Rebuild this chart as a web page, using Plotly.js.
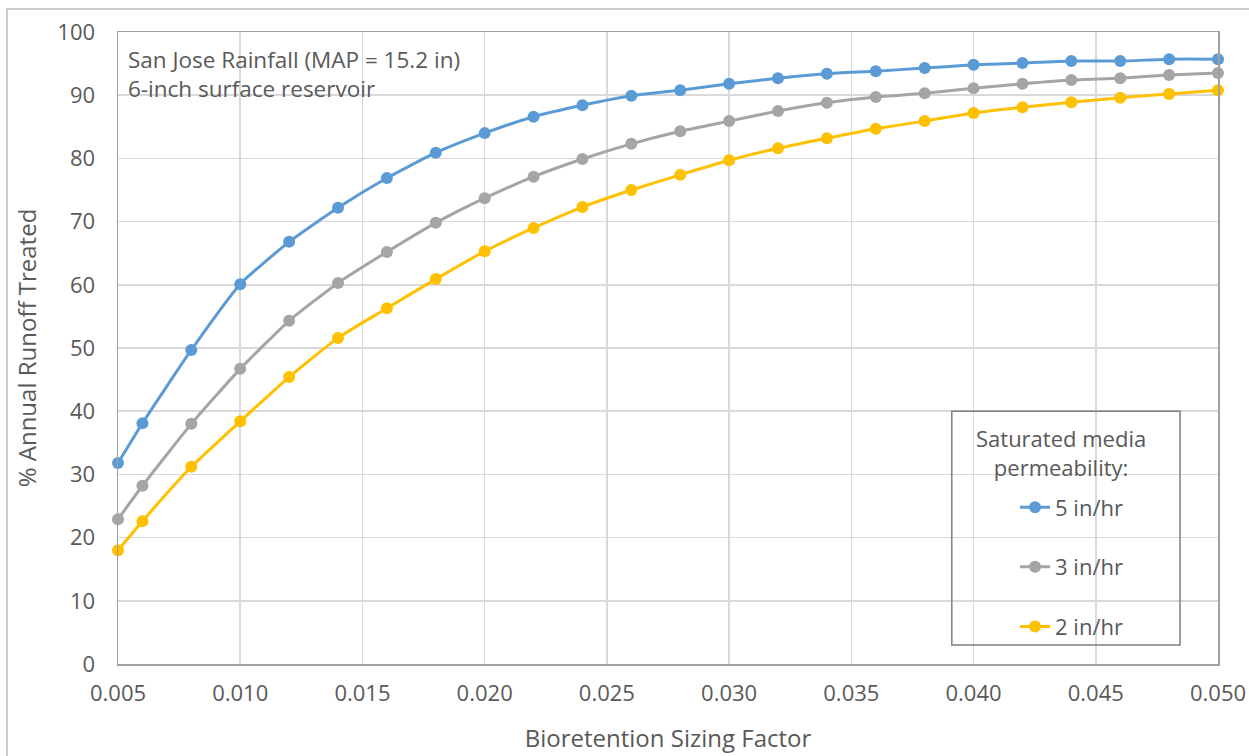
<!DOCTYPE html>
<html>
<head>
<meta charset="utf-8">
<script src="https://cdn.plot.ly/plotly-3.0.1.min.js"></script>
<style>html,body{margin:0;padding:0;background:#fff;}#chart{width:1249px;height:756px;}</style>
</head>
<body>
<div id="chart"></div>
<script>
const sizingFactor = [0.005, 0.006, 0.008, 0.010, 0.012, 0.014, 0.016, 0.018, 0.020, 0.022, 0.024, 0.026,
                      0.028, 0.030, 0.032, 0.034, 0.036, 0.038, 0.040, 0.042, 0.044, 0.046, 0.048, 0.050];
const perm5 = [31.8, 38.1, 49.7, 60.1, 66.8, 72.2, 76.9, 80.9, 84.0, 86.6, 88.4, 89.9,
               90.8, 91.8, 92.7, 93.4, 93.8, 94.3, 94.8, 95.1, 95.4, 95.4, 95.7, 95.7];
const perm3 = [22.9, 28.2, 38.0, 46.7, 54.3, 60.3, 65.2, 69.8, 73.7, 77.1, 79.9, 82.3,
               84.3, 85.9, 87.5, 88.8, 89.7, 90.3, 91.1, 91.8, 92.4, 92.7, 93.2, 93.5];
const perm2 = [18.0, 22.6, 31.2, 38.4, 45.4, 51.6, 56.3, 60.9, 65.3, 69.0, 72.3, 75.0,
               77.4, 79.7, 81.6, 83.2, 84.7, 85.9, 87.2, 88.1, 88.9, 89.6, 90.2, 90.8];
const seriesNames = ['5 in/hr', '3 in/hr', '2 in/hr'];
const seriesColors = ['#5B9BD5', '#A5A5A5', '#FFC000'];
const xTickVals = [0.005, 0.010, 0.015, 0.020, 0.025, 0.030, 0.035, 0.040, 0.045, 0.050];
const xTickText = ['0.005', '0.010', '0.015', '0.020', '0.025', '0.030', '0.035', '0.040', '0.045', '0.050'];
const yTickVals = [0, 10, 20, 30, 40, 50, 60, 70, 80, 90, 100];

const FONT = 'Open Sans, Liberation Sans, sans-serif';
const TXT = '#595959';

const ys = [perm5, perm3, perm2];
const traces = ys.map((y, i) => ({
  type: 'scatter', mode: 'lines+markers',
  x: sizingFactor, y: y, name: seriesNames[i], legendgroup: 'g' + i,
  line: {color: seriesColors[i], width: 3, shape: 'spline', smoothing: 0.5},
  marker: {color: seriesColors[i], size: 12},
  cliponaxis: false
}));

const layout = {
  width: 1249, height: 756,
  margin: {l: 118, r: 31, t: 32, b: 92},
  paper_bgcolor: '#ffffff', plot_bgcolor: '#ffffff',
  font: {family: FONT, color: TXT, size: 22},
  showlegend: true,
  xaxis: {
    range: [0.005, 0.050], tickvals: xTickVals, ticktext: xTickText,
    showgrid: true, gridcolor: '#D9D9D9', gridwidth: 1.5,
    showline: true, linecolor: '#A0A0A0', linewidth: 1.5, mirror: true,
    ticks: '', zeroline: false, ticklabelstandoff: 9,
    tickfont: {family: FONT, size: 22, color: TXT},
    title: {text: 'Bioretention Sizing Factor', font: {family: FONT, size: 24, color: TXT}, standoff: 24}
  },
  yaxis: {
    range: [0, 100], tickvals: yTickVals,
    showgrid: true, gridcolor: '#D9D9D9', gridwidth: 1.5,
    showline: true, linecolor: '#A0A0A0', linewidth: 1.5, mirror: true,
    ticks: '', zeroline: false, ticklabelstandoff: 17,
    tickfont: {family: FONT, size: 22, color: TXT},
    title: {text: '% Annual Runoff Treated', font: {family: FONT, size: 24, color: TXT}, standoff: 14}
  },
  legend: {
    x: 0.8155, xanchor: 'left', y: 0.281, yanchor: 'top',
    bgcolor: 'rgba(0,0,0,0)', borderwidth: 0,
    traceorder: 'grouped', tracegroupgap: 28,
    font: {family: FONT, size: 22, color: TXT}
  },
  shapes: [
    {type: 'rect', xref: 'paper', yref: 'paper', x0: 0.758, x1: 0.9655, y0: 0.030, y1: 0.400,
     line: {color: '#7F7F7F', width: 1.5}, fillcolor: 'rgba(0,0,0,0)', layer: 'above'},
    {type: 'rect', xref: 'paper', yref: 'paper', x0: -0.1009, x1: 1.05, y0: -0.2, y1: 1.0364,
     line: {color: '#BFBFBF', width: 1.5}, fillcolor: 'rgba(0,0,0,0)', layer: 'below'}
  ],
  annotations: [
    {xref: 'paper', yref: 'paper', x: 0.007, y: 0.984, xanchor: 'left', yanchor: 'top', align: 'left',
     showarrow: false, text: 'San Jose Rainfall (MAP = 15.2 in)<br>6-inch surface reservoir',
     font: {family: FONT, size: 22.5, color: TXT}},
    {xref: 'paper', yref: 'paper', x: 0.857, y: 0.385, xanchor: 'center', yanchor: 'top', align: 'center',
     showarrow: false, text: 'Saturated media<br>permeability:',
     font: {family: FONT, size: 22, color: TXT}}
  ]
};

Plotly.newPlot('chart', traces, layout, {displayModeBar: false, staticPlot: true});
</script>
</body>
</html>
